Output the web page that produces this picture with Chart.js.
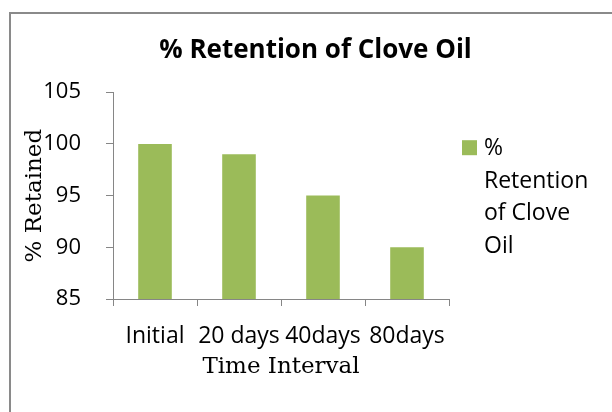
<!DOCTYPE html>
<html>
<head>
<meta charset="utf-8">
<title>% Retention of Clove Oil</title>
<script src="https://cdn.jsdelivr.net/npm/chart.js@4.4.0/dist/chart.umd.min.js"></script>
<style>
    body { margin: 0; background: #fff; }
    #wrap { position: relative; width: 612px; height: 412px; overflow: hidden; }
    #frame { position: absolute; left: 9px; top: 12px; width: 640px; height: 440px; border: 2px solid #8a8a8a; }
    #chartBar { position: absolute; left: 0; top: 0; }
</style>
</head>
<body>
<div id="wrap">
    <div id="frame"></div>
    <canvas id="chartBar" width="612" height="412"></canvas>
</div>
<script>
// chart data
var chartTitle = '% Retention of Clove Oil';
var seriesName = '% Retention of Clove Oil';
var timeLabels = ['Initial', '20 days', '40days', '80days'];
var retained = [100, 99, 95, 90];
var yTicks = [85, 90, 95, 100, 105];
var xTitle = 'Time Interval';
var yTitle = '% Retained';

var axisGrey = '#868686';

// split legend text into lines that fit the given width
function wrapText(ctx, text, maxWidth) {
    var words = text.split(' ');
    var lines = [];
    var line = '';
    for (var i = 0; i < words.length; i++) {
        var test = line ? line + ' ' + words[i] : words[i];
        if (line && ctx.measureText(test).width > maxWidth) {
            lines.push(line);
            line = words[i];
        } else {
            line = test;
        }
    }
    if (line) lines.push(line);
    return lines;
}

// legend on the right, wrapped like the original
var sideLegend = {
    id: 'sideLegend',
    afterDraw: function (chart) {
        var ctx = chart.ctx;
        var area = chart.chartArea;
        var ds = chart.data.datasets[0];
        var x = area.right + 13;
        var y = area.top + 48;
        ctx.save();
        ctx.fillStyle = ds.backgroundColor;
        ctx.fillRect(x, y, 15, 15);
        ctx.font = "23px 'Open Sans'";
        ctx.fillStyle = '#000';
        ctx.textBaseline = 'middle';
        ctx.textAlign = 'left';
        var lines = wrapText(ctx, ds.label, 110);
        for (var i = 0; i < lines.length; i++) {
            ctx.fillText(lines[i], x + 22, y + 8.5 + i * 32.5);
        }
        ctx.restore();
    }
};

Chart.defaults.font.family = "'Open Sans', sans-serif";
Chart.defaults.color = '#000';

var ctxBar = document.getElementById('chartBar');
var barChart = new Chart(ctxBar, {
    type: 'bar',
    data: {
        labels: timeLabels,
        datasets: [{
            label: seriesName,
            data: retained,
            backgroundColor: '#9bbb59',
            borderWidth: 0,
            categoryPercentage: 1,
            barPercentage: 0.4
        }]
    },
    options: {
        responsive: false,
        animation: false,
        layout: { padding: { left: 19, top: 0, right: 0, bottom: 0 } },
        plugins: {
            legend: { display: false },
            tooltip: { enabled: false },
            title: {
                display: true,
                text: chartTitle,
                font: { size: 26, weight: 'bold' },
                color: '#000',
                padding: { top: 35, bottom: 26 }
            }
        },
        scales: {
            x: {
                offset: true,
                grid: { offset: true, drawOnChartArea: false, tickLength: 7, color: axisGrey },
                border: { color: axisGrey, width: 1 },
                ticks: { font: { size: 23 }, padding: 17, maxRotation: 0, autoSkip: false },
                title: {
                    display: true,
                    text: xTitle,
                    font: { family: "'DejaVu Serif', serif", size: 23 },
                    padding: { top: 0, bottom: 31 }
                },
                afterFit: function (s) { s.height = 113; }
            },
            y: {
                min: yTicks[0],
                max: yTicks[yTicks.length - 1],
                grid: { drawOnChartArea: false, tickLength: 7, color: axisGrey },
                border: { color: axisGrey, width: 1 },
                ticks: { stepSize: yTicks[1] - yTicks[0], font: { size: 22 }, padding: 25 },
                title: {
                    display: true,
                    text: yTitle,
                    font: { family: "'DejaVu Serif', serif", size: 23 },
                    padding: { top: 2, bottom: 0 }
                },
                afterFit: function (s) { s.width = 94; }
            },
            // empty axis that keeps room for the legend
            side: {
                position: 'right',
                display: true,
                grid: { display: false },
                border: { display: false },
                ticks: { display: false },
                afterFit: function (s) { s.width = 163; }
            }
        }
    },
    plugins: [sideLegend]
});
</script>
</body>
</html>
